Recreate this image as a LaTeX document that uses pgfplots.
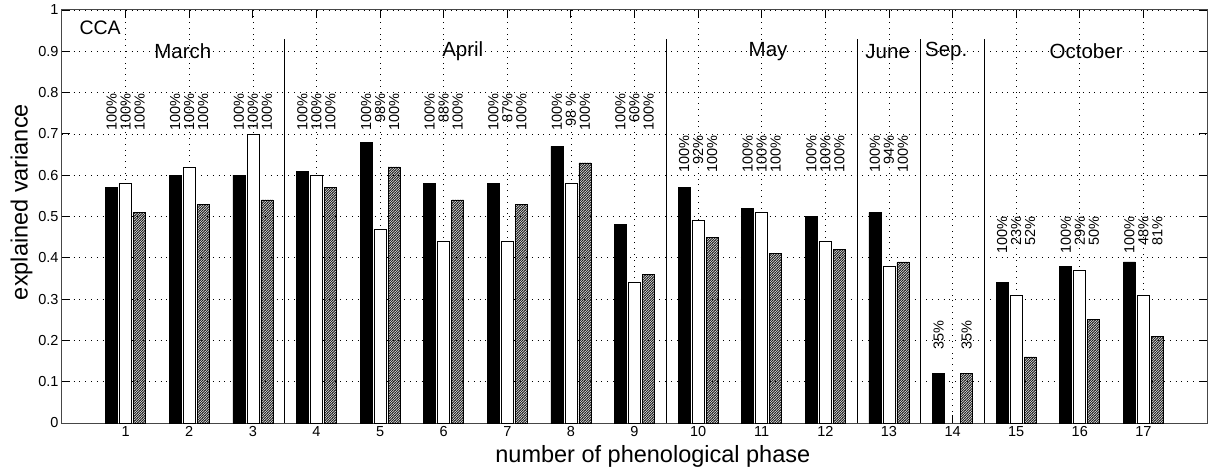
\documentclass[border=0pt]{standalone}
\usepackage{fontspec}
\setmainfont{Liberation Sans}
\usepackage{pgfplots}
\pgfplotsset{compat=1.18}
\usetikzlibrary{patterns}

% fine diagonal hatching for the third series
\pgfdeclarepatternformonly{finehatch}{\pgfqpoint{-1pt}{-1pt}}{\pgfqpoint{3.5pt}{3.5pt}}{\pgfqpoint{2.5pt}{2.5pt}}{%
  \pgfsetlinewidth{0.95pt}%
  \pgfpathmoveto{\pgfqpoint{-0.5pt}{-0.5pt}}%
  \pgfpathlineto{\pgfqpoint{3pt}{3pt}}%
  \pgfusepath{stroke}}

\newcommand{\tickfont}{\fontsize{14.5}{16}\selectfont}
\newcommand{\pctfont}{\fontsize{14.5}{16}\selectfont}

\begin{document}
\begin{tikzpicture}
\begin{axis}[
  width=1145pt, height=413pt, scale only axis,
  xmin=0, xmax=18, ymin=0, ymax=1,
  xtick={1,...,17},
  ytick={0,0.1,0.2,0.3,0.4,0.5,0.6,0.7,0.8,0.9,1},
  /pgf/number format/assume math mode=true,
  tick label style={font=\tickfont},
  grid=major,
  major grid style={black, line width=0.6pt, dash pattern=on 0.8pt off 5pt},
  tick align=inside,
  major tick length=8pt,
  tick style={black, line width=0.8pt},
  axis line style={gray!55!black, line width=1pt},
  xlabel={number of phenological phase},
  ylabel={explained variance},
  xlabel style={font=\fontsize{23.5}{26}\selectfont, at={(axis description cs:0.516,-0.081)}, anchor=center, inner sep=0pt},
  ylabel style={font=\fontsize{23.5}{26}\selectfont, at={(axis description cs:-0.0354,0.535)}, anchor=center, inner sep=0pt},
  clip=false,
]

% first series (solid black)
\addplot[ybar, bar width=12pt, bar shift=-14pt, fill=black, draw=black, line width=0.6pt] coordinates {
  (1,0.57) (2,0.60) (3,0.60) (4,0.61) (5,0.68) (6,0.58) (7,0.58) (8,0.67) (9,0.48)
  (10,0.57) (11,0.52) (12,0.50) (13,0.51) (14,0.12) (15,0.34) (16,0.38) (17,0.39)};

% second series (white)
\addplot[ybar, bar width=12pt, bar shift=0pt, fill=white, draw=black, line width=0.6pt] coordinates {
  (1,0.58) (2,0.62) (3,0.70) (4,0.60) (5,0.47) (6,0.44) (7,0.44) (8,0.58) (9,0.34)
  (10,0.49) (11,0.51) (12,0.44) (13,0.38) (15,0.31) (16,0.37) (17,0.31)};

% third series (hatched)
\addplot[ybar, bar width=12pt, bar shift=14pt, pattern=finehatch, pattern color=black!85, draw=black, line width=0.6pt] coordinates {
  (1,0.51) (2,0.53) (3,0.54) (4,0.57) (5,0.62) (6,0.54) (7,0.53) (8,0.63) (9,0.36)
  (10,0.45) (11,0.41) (12,0.42) (13,0.39) (14,0.12) (15,0.16) (16,0.25) (17,0.21)};

% month separators
\addplot[black, line width=0.8pt, mark=none] coordinates {(3.5,0) (3.5,0.93)};
\addplot[black, line width=0.8pt, mark=none] coordinates {(9.5,0) (9.5,0.93)};
\addplot[black, line width=0.8pt, mark=none] coordinates {(12.5,0) (12.5,0.93)};
\addplot[black, line width=0.8pt, mark=none] coordinates {(13.5,0) (13.5,0.93)};
\addplot[black, line width=0.8pt, mark=none] coordinates {(14.5,0) (14.5,0.93)};

% percentage labels above the groups
\pgfplotsset{pct/.style={draw=none, mark=none, nodes near coords, point meta=explicit symbolic,
  nodes near coords style={xshift=#1, rotate=90, anchor=east, inner sep=0pt, font=\pctfont}}}
\addplot[pct=-14pt] coordinates {
  (1,0.799) [100\%] (2,0.799) [100\%] (3,0.799) [100\%] (4,0.799) [100\%] (5,0.799) [100\%]
  (6,0.799) [100\%] (7,0.799) [100\%] (8,0.799) [100\%] (9,0.799) [100\%]
  (10,0.697) [100\%] (11,0.697) [100\%] (12,0.697) [100\%] (13,0.697) [100\%]
  (14,0.249) [35\%]
  (15,0.50) [100\%] (16,0.50) [100\%] (17,0.50) [100\%]};
\addplot[pct=0pt] coordinates {
  (1,0.799) [100\%] (2,0.799) [100\%] (3,0.799) [100\%] (4,0.799) [100\%] (5,0.799) [98\%]
  (6,0.799) [88\%] (7,0.799) [87\%] (8,0.799) [98 \%] (9,0.799) [60\%]
  (10,0.697) [92\%] (11,0.697) [100\%] (12,0.697) [100\%] (13,0.697) [94\%]
  (15,0.50) [23\%] (16,0.50) [29\%] (17,0.50) [48\%]};
\addplot[pct=14pt] coordinates {
  (1,0.799) [100\%] (2,0.799) [100\%] (3,0.799) [100\%] (4,0.799) [100\%] (5,0.799) [100\%]
  (6,0.799) [100\%] (7,0.799) [100\%] (8,0.799) [100\%] (9,0.799) [100\%]
  (10,0.697) [100\%] (11,0.697) [100\%] (12,0.697) [100\%] (13,0.697) [100\%]
  (14,0.249) [35\%]
  (15,0.50) [52\%] (16,0.50) [50\%] (17,0.50) [81\%]};

% panel and month names
\node[font=\fontsize{19.5}{22}\selectfont, anchor=center] at (axis cs:0.6,0.958) {CCA};
\begin{scope}[every node/.style={font=\fontsize{20.5}{23}\selectfont, anchor=center}]
\node at (axis cs:1.9,0.9) {March};
\node at (axis cs:6.3,0.9) {April};
\node at (axis cs:11.1,0.9) {May};
\node at (axis cs:12.98,0.9) {June};
\node at (axis cs:13.9,0.9) {Sep.};
\node at (axis cs:16.1,0.9) {October};
\end{scope}
\end{axis}
\pgfresetboundingbox
\path[use as bounding box] ([shift={(-62pt,-45pt)}]current axis.south west) rectangle ([shift={(1pt,10pt)}]current axis.north east);
\end{tikzpicture}
\end{document}
